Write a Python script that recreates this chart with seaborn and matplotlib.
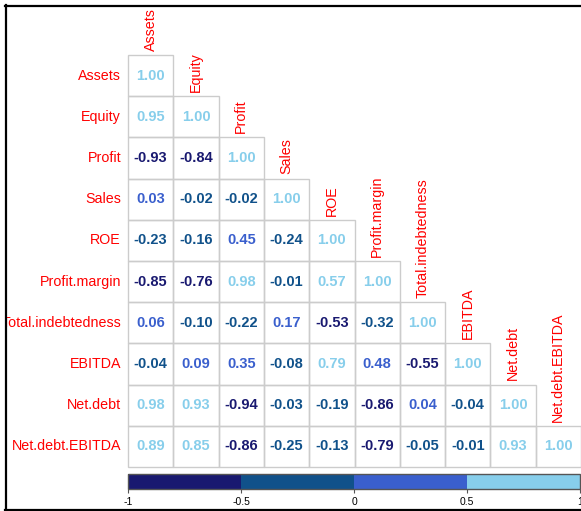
import numpy as np
import pandas as pd
import seaborn as sns
import matplotlib.pyplot as plt
from matplotlib.colors import ListedColormap, BoundaryNorm
from matplotlib.cm import ScalarMappable
from matplotlib.lines import Line2D
from matplotlib.patches import Rectangle

# variable names (rows / columns of the correlation matrix)
names = ['Assets', 'Equity', 'Profit', 'Sales', 'ROE', 'Profit.margin',
         'Total.indebtedness', 'EBITDA', 'Net.debt', 'Net.debt.EBITDA']

# lower triangle, one list per row
r_assets = [1.00]
r_equity = [0.95, 1.00]
r_profit = [-0.93, -0.84, 1.00]
r_sales = [0.03, -0.02, -0.02, 1.00]
r_roe = [-0.23, -0.16, 0.45, -0.24, 1.00]
r_margin = [-0.85, -0.76, 0.98, -0.01, 0.57, 1.00]
r_indebt = [0.06, -0.10, -0.22, 0.17, -0.53, -0.32, 1.00]
r_ebitda = [-0.04, 0.09, 0.35, -0.08, 0.79, 0.48, -0.55, 1.00]
r_netdebt = [0.98, 0.93, -0.94, -0.03, -0.19, -0.86, 0.04, -0.04, 1.00]
r_nde = [0.89, 0.85, -0.86, -0.25, -0.13, -0.79, -0.05, -0.01, 0.93, 1.00]

bounds = [-1, -0.5, 0, 0.5, 1]
bin_colors = ['#191970', '#10518A', '#3A5FCD', '#87CEEB']

rows = [r_assets, r_equity, r_profit, r_sales, r_roe, r_margin,
        r_indebt, r_ebitda, r_netdebt, r_nde]
n = len(names)
mat = np.full((n, n), np.nan)
for i, r in enumerate(rows):
    mat[i, :len(r)] = r
corr = pd.DataFrame(mat, index=names, columns=names)
mask = np.triu(np.ones((n, n), dtype=bool), k=1)

plt.rcParams['font.family'] = ['Liberation Sans', 'DejaVu Sans']
W, H = 581, 511
fig = plt.figure(figsize=(W / 100, H / 100), dpi=100)

# heatmap axes in pixel coords: x 128..581, y 55..467
ax = fig.add_axes([128 / W, 1 - 467 / H, 453 / W, 412 / H])
sns.heatmap(corr, mask=mask, cmap=ListedColormap(['white']), cbar=False,
            linewidths=0, annot=True, fmt='.2f',
            annot_kws={'fontsize': 10.5, 'fontweight': 'bold'}, ax=ax)

cmap = ListedColormap(bin_colors)
norm = BoundaryNorm(bounds, cmap.N)
for t in ax.texts:
    t.set_color(cmap(norm(float(t.get_text()))))

# light grey borders only around the lower-triangle cells
for i in range(n):
    for j in range(i + 1):
        ax.add_patch(Rectangle((j, i), 1, 1, fill=False, edgecolor='#cccccc',
                               linewidth=1, clip_on=False, zorder=1))

ax.set_xticks([])
ax.set_xlabel('')
ax.set_ylabel('')
ax.set_yticklabels(names, rotation=0, color='red', fontsize=10.3)
ax.tick_params(axis='y', length=0, pad=5)

# column labels sit above the diagonal cell
for j, name in enumerate(names):
    ax.text(j + 0.5, j - 0.1, name, rotation=90, ha='center', va='bottom',
            color='red', fontsize=10.3, clip_on=False)

# colour legend bar
cax = fig.add_axes([128 / W, 1 - 489 / H, 452 / W, 15 / H])
cb = fig.colorbar(ScalarMappable(norm=norm, cmap=cmap), cax=cax,
                  orientation='horizontal')
cb.set_ticks(bounds)
cb.set_ticklabels(['-1', '-0.5', '0', '0.5', '1'])
cb.outline.set_edgecolor('#555555')
cb.outline.set_linewidth(1)
cax.tick_params(length=3, width=0.8, color='#555555', labelsize=7.5, pad=3)

# screenshot frame (top, left, bottom)
fig.add_artist(Rectangle((0, 0), 6 / W, 1, transform=fig.transFigure,
                         facecolor='white', edgecolor='none', zorder=9))
for xs, ys in [([5 / W, 1], [1 - 6 / H] * 2),
               ([6 / W] * 2, [0, 1 - 5 / H]),
               ([5 / W, 1], [1 - 510 / H] * 2)]:
    fig.add_artist(Line2D(xs, ys, color='black', linewidth=1.6,
                          transform=fig.transFigure, zorder=10))

fig.savefig('out.png', dpi=100, facecolor='white')
